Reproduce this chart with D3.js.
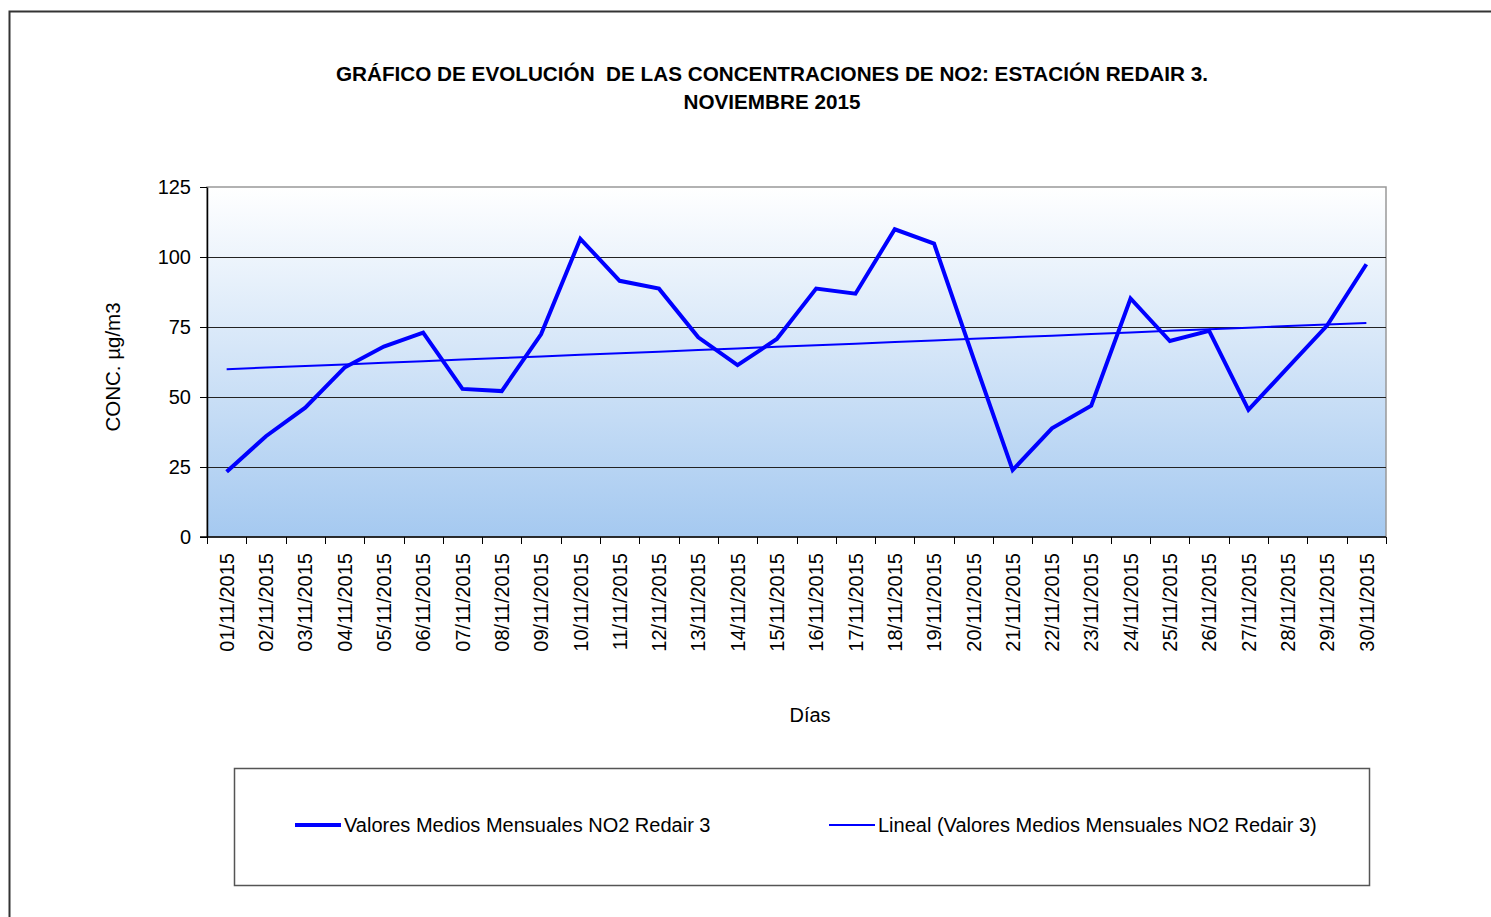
<!DOCTYPE html>
<html>
<head>
<meta charset="utf-8">
<script src="https://cdn.jsdelivr.net/npm/d3@7"></script>
<style>
  html, body { margin: 0; padding: 0; background: #fff; overflow: hidden; }
  svg { display: block; }
  text { font-family: Arial, 'Liberation Sans', sans-serif; }
</style>
</head>
<body>
<svg></svg>
<script>
const days = ['01/11/2015', '02/11/2015', '03/11/2015', '04/11/2015', '05/11/2015',
	'06/11/2015', '07/11/2015', '08/11/2015', '09/11/2015', '10/11/2015',
	'11/11/2015', '12/11/2015', '13/11/2015', '14/11/2015', '15/11/2015',
	'16/11/2015', '17/11/2015', '18/11/2015', '19/11/2015', '20/11/2015',
	'21/11/2015', '22/11/2015', '23/11/2015', '24/11/2015', '25/11/2015',
	'26/11/2015', '27/11/2015', '28/11/2015', '29/11/2015', '30/11/2015'];

const no2 = [23.3, 36.0, 46.2, 60.5, 68.0, 73.0, 52.9, 52.1, 72.4, 106.5,
	91.5, 88.7, 71.3, 61.4, 70.7, 88.7, 86.9, 109.9, 104.8, 64.0,
	23.9, 38.8, 46.9, 85.2, 70.0, 73.6, 45.4, 60.5, 75.5, 97.4];

const yTicks = [0, 25, 50, 75, 100, 125];

const titleLines = ['GRÁFICO DE EVOLUCIÓN  DE LAS CONCENTRACIONES DE NO2: ESTACIÓN REDAIR 3.', 'NOVIEMBRE 2015'];
const seriesName = 'Valores Medios Mensuales NO2 Redair 3';
const trendName = 'Lineal (Valores Medios Mensuales NO2 Redair 3)';

const svg = d3.select('svg')
	.attr('width', 1491)
	.attr('height', 917);

const width = +svg.attr('width'),
	height = +svg.attr('height');

const margin = { top: 187, right: 105, bottom: 380, left: 207 },
	innerWidth = width - margin.left - margin.right,
	innerHeight = height - margin.top - margin.bottom;

// chart area border (runs off the right and bottom)
svg.append('path')
	.attr('d', `M9.5,${height} V11.5 H${width}`)
	.attr('fill', 'none')
	.attr('stroke', '#333')
	.attr('stroke-width', 2);

const defs = svg.append('defs');
const grad = defs.append('linearGradient')
	.attr('id', 'plotbg')
	.attr('x1', 0).attr('y1', 0).attr('x2', 0).attr('y2', 1);
grad.append('stop').attr('offset', '0%').attr('stop-color', '#ffffff');
grad.append('stop').attr('offset', '100%').attr('stop-color', '#a5c9f0');

titleLines.forEach((t, i) => {
	svg.append('text')
		.attr('x', 772)
		.attr('y', 81 + i * 28)
		.attr('text-anchor', 'middle')
		.attr('font-size', 20.7)
		.attr('font-weight', 'bold')
		.attr('xml:space', 'preserve')
		.style('white-space', 'pre')
		.text(t);
});

const xScale = d3.scaleBand()
	.domain(days)
	.range([0, innerWidth]);

const yScale = d3.scaleLinear()
	.domain([0, 125])
	.range([innerHeight, 0]);

const g = svg.append('g')
	.attr('transform', `translate(${margin.left}, ${margin.top})`);

g.append('rect')
	.attr('width', innerWidth)
	.attr('height', innerHeight)
	.attr('fill', 'url(#plotbg)')
	.attr('stroke', '#999')
	.attr('stroke-width', 1.5);

// gridlines
g.selectAll('.grid')
	.data(yTicks.filter(d => d > 0 && d < 125))
	.enter().append('line')
	.attr('class', 'grid')
	.attr('x1', 0).attr('x2', innerWidth)
	.attr('y1', d => Math.round(yScale(d)) + 0.5)
	.attr('y2', d => Math.round(yScale(d)) + 0.5)
	.attr('stroke', '#222')
	.attr('stroke-width', 1);

const yAxis = d3.axisLeft(yScale)
	.tickValues(yTicks)
	.tickSize(7)
	.tickSizeOuter(0)
	.tickPadding(9);

const yAxisG = g.append('g').call(yAxis);
yAxisG.attr('font-family', null).attr('font-size', null);
yAxisG.selectAll('text').attr('font-size', 20).attr('fill', '#000');
yAxisG.selectAll('line').attr('stroke', '#000');
yAxisG.select('.domain').attr('stroke', '#000').attr('stroke-width', 1.5);

// x ticks at the band edges
const xAxisG = g.append('g')
	.attr('transform', `translate(0, ${innerHeight})`);
xAxisG.append('line')
	.attr('x1', -7).attr('x2', innerWidth)
	.attr('stroke', '#000').attr('stroke-width', 1.5);
xAxisG.selectAll('.xtick')
	.data(days.concat(['end']))
	.enter().append('line')
	.attr('x1', (d, i) => Math.round(i * xScale.step()) + 0.5)
	.attr('x2', (d, i) => Math.round(i * xScale.step()) + 0.5)
	.attr('y1', 0).attr('y2', 7)
	.attr('stroke', '#000');

xAxisG.selectAll('.xlabel')
	.data(days)
	.enter().append('text')
	.attr('transform', d => `translate(${xScale(d) + xScale.bandwidth() / 2}, 16) rotate(-90)`)
	.attr('text-anchor', 'end')
	.attr('dy', '0.36em')
	.attr('font-size', 20)
	.attr('fill', '#000')
	.text(d => d);

// trend line from least squares of the series
const n = no2.length;
const xs = d3.range(1, n + 1);
const mx = d3.mean(xs), my = d3.mean(no2);
const slope = d3.sum(xs, (x, i) => (x - mx) * (no2[i] - my)) / d3.sum(xs, x => (x - mx) * (x - mx));
const intercept = my - slope * mx;
const trend = xs.map(x => intercept + slope * x);

const line = d3.line()
	.x((d, i) => xScale(days[i]) + xScale.bandwidth() / 2)
	.y(d => yScale(d));

g.append('path')
	.datum(trend)
	.attr('d', line)
	.attr('fill', 'none')
	.attr('stroke', '#0000ff')
	.attr('stroke-width', 2);

g.append('path')
	.datum(no2)
	.attr('d', line)
	.attr('fill', 'none')
	.attr('stroke', '#0000ff')
	.attr('stroke-width', 4)
	.attr('stroke-linejoin', 'miter');

// axis titles
svg.append('text')
	.attr('x', 810)
	.attr('y', 722)
	.attr('text-anchor', 'middle')
	.attr('font-size', 20)
	.text('Días');

svg.append('text')
	.attr('transform', 'translate(120, 367) rotate(-90)')
	.attr('text-anchor', 'middle')
	.attr('font-size', 20.5)
	.text('CONC. µg/m3');

// legend
const legend = svg.append('g');
legend.append('rect')
	.attr('x', 234.5).attr('y', 768.5)
	.attr('width', 1135).attr('height', 117)
	.attr('fill', '#fff')
	.attr('stroke', '#555')
	.attr('stroke-width', 1.5);

const items = [
	{ name: seriesName, x: 295, w: 4 },
	{ name: trendName, x: 829, w: 2 }
];
items.forEach(it => {
	legend.append('line')
		.attr('x1', it.x).attr('x2', it.x + 46)
		.attr('y1', 825).attr('y2', 825)
		.attr('stroke', '#0000ff')
		.attr('stroke-width', it.w);
	legend.append('text')
		.attr('x', it.x + 49)
		.attr('y', 832)
		.attr('font-size', 20)
		.text(it.name);
});
</script>
</body>
</html>
